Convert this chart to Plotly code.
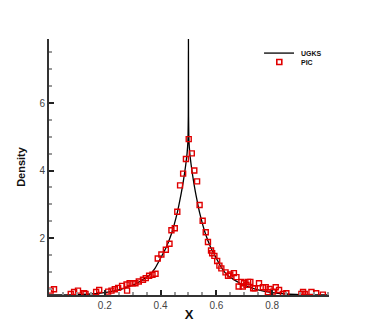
import plotly.graph_objects as go

# UGKS solution
ugks_x = [0.00, 0.05, 0.10, 0.15, 0.20, 0.25, 0.28, 0.30, 0.32, 0.34, 0.36, 0.38,
          0.40, 0.42, 0.44, 0.46, 0.47, 0.48, 0.49, 0.495, 0.498, 0.4995, 0.5,
          0.5005, 0.502, 0.505, 0.51, 0.52, 0.53, 0.54, 0.56, 0.58, 0.60, 0.62,
          0.64, 0.66, 0.68, 0.70, 0.72, 0.75, 0.80, 0.85, 0.90, 0.95, 1.00]
ugks_rho = [0.31, 0.31, 0.32, 0.34, 0.38, 0.46, 0.54, 0.60, 0.68, 0.78, 0.90, 1.10,
            1.40, 1.72, 2.15, 2.75, 3.15, 3.60, 4.15, 4.50, 4.85, 5.60, 7.90,
            5.60, 4.85, 4.50, 4.15, 3.60, 3.15, 2.75, 2.15, 1.72, 1.40, 1.10,
            0.90, 0.78, 0.68, 0.60, 0.54, 0.46, 0.38, 0.34, 0.32, 0.31, 0.31]

# PIC samples
pic_x = [0.006, 0.018, 0.078, 0.090, 0.104, 0.126, 0.131, 0.169, 0.180, 0.212,
         0.224, 0.236, 0.248, 0.262, 0.278, 0.280, 0.289, 0.300, 0.310, 0.322,
         0.337, 0.347, 0.359, 0.371, 0.382, 0.390, 0.403, 0.419, 0.432, 0.439,
         0.451, 0.460, 0.470, 0.481, 0.491, 0.501, 0.512, 0.521, 0.531, 0.540,
         0.551, 0.562, 0.570, 0.581, 0.585, 0.593, 0.603, 0.611, 0.618, 0.633,
         0.642, 0.650, 0.663, 0.672, 0.680, 0.690, 0.695, 0.699, 0.708, 0.714,
         0.722, 0.732, 0.738, 0.753, 0.767, 0.777, 0.785, 0.791, 0.803, 0.813,
         0.825, 0.839, 0.851, 0.905, 0.911, 0.917, 0.941, 0.958, 0.982]
pic_rho = [0.44, 0.48, 0.34, 0.40, 0.44, 0.36, 0.34, 0.40, 0.46, 0.41,
           0.44, 0.48, 0.52, 0.58, 0.62, 0.44, 0.66, 0.66, 0.66, 0.71,
           0.76, 0.81, 0.88, 0.91, 0.94, 1.39, 1.51, 1.65, 1.83, 2.23,
           2.29, 2.78, 3.56, 3.91, 4.34, 4.93, 4.51, 4.00, 3.68, 2.98,
           2.51, 2.17, 1.88, 1.63, 1.55, 1.47, 1.32, 1.18, 1.10, 0.98,
           0.88, 0.92, 0.96, 0.84, 0.56, 0.70, 0.56, 0.66, 0.61, 0.70,
           0.70, 0.51, 0.51, 0.66, 0.54, 0.54, 0.39, 0.49, 0.41, 0.54,
           0.46, 0.34, 0.36, 0.34, 0.40, 0.34, 0.40, 0.36, 0.32]

legend_names = ['UGKS', 'PIC']
RED = '#e00000'
FONT = 'Arial, Liberation Sans'

fig = go.Figure()
fig.add_trace(go.Scatter(
    x=ugks_x, y=ugks_rho, mode='lines', name=legend_names[0],
    line=dict(color='black', width=1.3, shape='spline', smoothing=0.6)
))
fig.add_trace(go.Scatter(
    x=pic_x, y=pic_rho, mode='markers', name=legend_names[1],
    marker=dict(symbol='square-open', size=5, color=RED,
                line=dict(width=1.4, color=RED))
))

# compact hand-made legend (plotly's own legend rows are too tall here)
fig.add_trace(go.Scatter(
    x=[0.8225], y=[0.910], xaxis='x2', yaxis='y2', mode='markers',
    marker=dict(symbol='square-open', size=5, color=RED, line=dict(width=1.6, color=RED)),
    hoverinfo='skip'
))
fig.add_shape(type='line', xref='paper', yref='paper', x0=0.768, x1=0.875,
              y0=0.945, y1=0.945, line=dict(color='black', width=1.3))
for name, yy in zip(legend_names, [0.945, 0.910]):
    fig.add_annotation(xref='paper', yref='paper', x=0.893, y=yy, xanchor='left',
                       yanchor='middle', text='<b>%s</b>' % name, showarrow=False,
                       font=dict(family=FONT, size=7, color='#111111'))

axis_common = dict(
    showline=True, linecolor='#333333', linewidth=2, mirror=False,
    showgrid=False, zeroline=False, automargin=False,
    ticks='inside', ticklen=5, tickwidth=1.5, tickcolor='#222222',
    tickfont=dict(family=FONT, size=10, color='#444444'),
)

# the page body adds an 8px offset, margins compensate for it
fig.update_layout(
    width=374, height=332,
    margin=dict(l=41, r=53, t=31, b=45),
    plot_bgcolor='white', paper_bgcolor='white',
    showlegend=False,
    xaxis=dict(
        range=[0, 1.004], tickvals=[0.2, 0.4, 0.6, 0.8],
        minor=dict(dtick=0.05, tick0=0, ticks='inside', ticklen=3, tickcolor='#999999'),
        title=dict(text='<b>X</b>', standoff=0,
                   font=dict(family=FONT, size=13, color='#111111')),
        **axis_common
    ),
    yaxis=dict(
        range=[0.31, 7.9], tickvals=[2, 4, 6],
        minor=dict(dtick=0.5, tick0=0, ticks='inside', ticklen=3, tickcolor='#999999'),
        title=dict(text='<b>Density</b>', standoff=12,
                   font=dict(family=FONT, size=11, color='#111111')),
        **axis_common
    ),
    xaxis2=dict(overlaying='x', range=[0, 1], visible=False),
    yaxis2=dict(overlaying='y', range=[0, 1], visible=False),
)

fig.write_html("out.html")
